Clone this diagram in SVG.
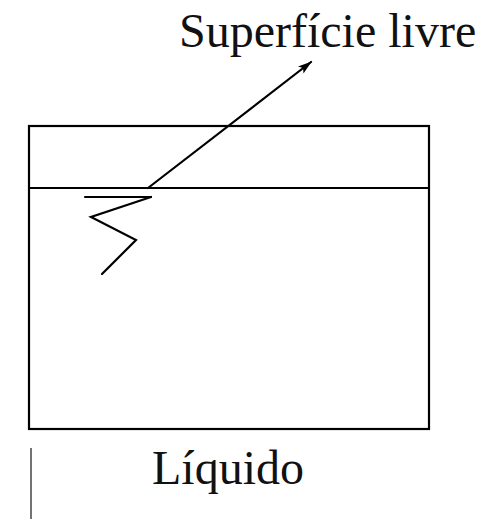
<svg xmlns="http://www.w3.org/2000/svg" width="490" height="519" viewBox="0 0 490 519">
<style>
.ln{stroke:#000;stroke-width:2.2;fill:none;stroke-linecap:round;stroke-linejoin:miter}
.lbl{font-family:"Liberation Serif","Times New Roman",serif;font-size:48px;fill:#111}
</style>
<defs>
<marker id="ah" viewBox="0 0 14 10" refX="13" refY="5" markerWidth="14" markerHeight="10" orient="auto" markerUnits="userSpaceOnUse">
<path d="M0,0.5 L14,5 L0,9.5 L3,5 Z" fill="#000"/>
</marker>
</defs>
<rect width="490" height="519" fill="#fff"/>
<g id="tank">
<rect x="29" y="126" width="400" height="303" class="ln"/>
<line x1="29" y1="188" x2="429" y2="188" class="ln"/>
</g>
<g id="surface-symbol">
<line x1="85" y1="197" x2="151" y2="197" class="ln"/>
<polyline points="151,197 91,217 136,240 102,274" class="ln"/>
</g>
<g id="connectors">
<line x1="148" y1="188" x2="311" y2="62" class="ln" marker-end="url(#ah)"/>
</g>
<g id="label-superficie">
<text x="179" y="47" class="lbl">Superfície livre</text>
</g>
<g id="label-liquido">
<text x="152" y="484" class="lbl">Líquido</text>
</g>
<line x1="31" y1="448" x2="31" y2="519" stroke="#444" stroke-width="1.5"/>
</svg>
